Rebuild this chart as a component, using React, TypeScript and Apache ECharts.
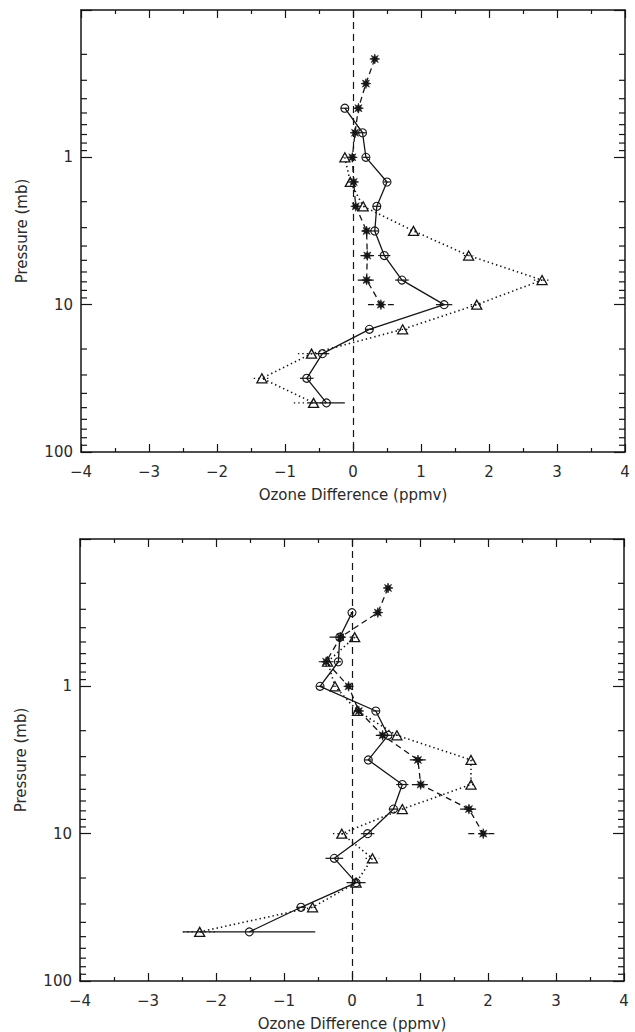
import React, { useEffect, useRef } from 'react';
import * as echarts from 'echarts';

// ---------- data (pressure levels in mb, ozone differences in ppmv) ----------
// Top panel
const TOP_CIRCLE_P = [0.464, 0.681, 1, 1.47, 2.15, 3.16, 4.64, 6.81, 10, 14.7, 21.5, 31.6, 46.4];
const TOP_CIRCLE_V = [-0.12, 0.14, 0.19, 0.50, 0.35, 0.32, 0.46, 0.72, 1.34, 0.24, -0.45, -0.68, -0.39];
const TOP_CIRCLE_E = [0.06, 0.05, 0.05, 0.05, 0.06, 0.05, 0.09, 0.10, 0.12, 0.06, 0.10, 0.10, 0.27];

const TOP_TRI_P = [1, 1.47, 2.15, 3.16, 4.64, 6.81, 10, 14.7, 21.5, 31.6, 46.4];
const TOP_TRI_V = [-0.12, -0.04, 0.15, 0.89, 1.70, 2.78, 1.82, 0.73, -0.61, -1.34, -0.58];
const TOP_TRI_E = [0.04, 0.04, 0.05, 0.05, 0.07, 0.12, 0.09, 0.08, 0.20, 0.12, 0.29];

const TOP_AST_P = [0.215, 0.316, 0.464, 0.681, 1, 1.47, 2.15, 3.16, 4.64, 6.81, 10];
const TOP_AST_V = [0.32, 0.19, 0.08, 0.03, -0.01, 0.01, 0.04, 0.20, 0.21, 0.20, 0.41];
const TOP_AST_E = [0.03, 0.03, 0.05, 0.03, 0.03, 0.03, 0.04, 0.07, 0.10, 0.13, 0.19];

// Bottom panel
const BOT_CIRCLE_P = [0.316, 0.464, 0.681, 1, 1.47, 2.15, 3.16, 4.64, 6.81, 10, 14.7, 21.5, 31.6, 46.4];
const BOT_CIRCLE_V = [0.00, -0.18, -0.20, -0.47, 0.35, 0.53, 0.24, 0.74, 0.61, 0.23, -0.26, 0.06, -0.75, -1.51];
const BOT_CIRCLE_E = [0.02, 0.05, 0.04, 0.05, 0.05, 0.06, 0.05, 0.09, 0.07, 0.10, 0.13, 0.14, 0.07, 0.97];

const BOT_TRI_P = [0.464, 0.681, 1, 1.47, 2.15, 3.16, 4.64, 6.81, 10, 14.7, 21.5, 31.6, 46.4];
const BOT_TRI_V = [0.04, -0.36, -0.25, 0.08, 0.66, 1.75, 1.75, 0.74, -0.15, 0.30, 0.06, -0.58, -2.24];
const BOT_TRI_E = [0.05, 0.05, 0.04, 0.05, 0.06, 0.05, 0.05, 0.05, 0.13, 0.10, 0.08, 0.05, 0.25];

const BOT_AST_P = [0.215, 0.316, 0.464, 0.681, 1, 1.47, 2.15, 3.16, 4.64, 6.81, 10];
const BOT_AST_V = [0.53, 0.38, -0.17, -0.38, -0.05, 0.10, 0.45, 0.97, 1.01, 1.72, 1.93];
const BOT_AST_E = [0.03, 0.04, 0.16, 0.11, 0.05, 0.06, 0.10, 0.12, 0.13, 0.13, 0.22];

// Axis ticks
const X_MIN = -4;
const X_MAX = 4;
const Y_MIN = 0.1;
const Y_MAX = 100;
const Y_MINOR_TICKS = [0.2, 0.3, 0.4, 0.5, 0.6, 0.7, 0.8, 0.9, 2, 3, 4, 5, 6, 7, 8, 9, 20, 30, 40, 50, 60, 70, 80, 90];

const X_TITLE = 'Ozone Difference (ppmv)';
const Y_TITLE = 'Pressure (mb)';

// ---------- styles ----------
const INK = '#151515';
const TEXT = '#2a2a2a';
const FONT = 'DejaVu Sans';
const DASH = [6, 4];
const DOT = [1.4, 3];

function starSymbol(): string {
  const pts: string[] = [];
  for (let i = 0; i < 16; i++) {
    const r = i % 2 === 0 ? 1 : 0.45;
    const a = (Math.PI * i) / 8 - Math.PI / 2;
    pts.push(`${(r * Math.cos(a)).toFixed(3)} ${(r * Math.sin(a)).toFixed(3)}`);
  }
  return 'path://M' + pts.join(' L') + ' Z';
}

function pairs(P: number[], V: number[]) {
  return P.map((p, i) => [V[i], p]);
}
function triples(P: number[], V: number[], E: number[]) {
  return P.map((p, i) => [V[i], p, E[i]]);
}

function buildOption() {
  const axisLine = { show: true, onZero: false, lineStyle: { color: INK, width: 1.5 } };
  const tickStyle = { color: INK, width: 1.2 };
  const label = { fontFamily: FONT, fontSize: 15, color: TEXT };

  const xAxes: any[] = [];
  const yAxes: any[] = [];
  const series: any[] = [];

  const panels = [
    {
      circ: [TOP_CIRCLE_P, TOP_CIRCLE_V, TOP_CIRCLE_E],
      tri: [TOP_TRI_P, TOP_TRI_V, TOP_TRI_E],
      ast: [TOP_AST_P, TOP_AST_V, TOP_AST_E],
    },
    {
      circ: [BOT_CIRCLE_P, BOT_CIRCLE_V, BOT_CIRCLE_E],
      tri: [BOT_TRI_P, BOT_TRI_V, BOT_TRI_E],
      ast: [BOT_AST_P, BOT_AST_V, BOT_AST_E],
    },
  ];

  panels.forEach((pd, g) => {
    const xi = g * 2;
    const yi = g * 2;
    const baseX = {
      type: 'value',
      gridIndex: g,
      min: X_MIN,
      max: X_MAX,
      interval: 1,
      axisLine,
      axisTick: { show: true, inside: true, length: 8, lineStyle: tickStyle },
      minorTick: { show: true, inside: true, splitNumber: 2, length: 4, lineStyle: tickStyle },
      splitLine: { show: false },
      minorSplitLine: { show: false },
    };
    xAxes.push({
      ...baseX,
      position: 'bottom',
      axisLabel: {
        ...label,
        margin: 12,
        formatter: (v: number) => (v < 0 ? '\u2212' + Math.abs(v) : String(v)),
      },
      name: X_TITLE,
      nameLocation: 'middle',
      nameGap: 35,
      nameTextStyle: { ...label },
    });
    xAxes.push({ ...baseX, position: 'top', axisLabel: { show: false } });

    const baseY = {
      type: 'log',
      gridIndex: g,
      logBase: 10,
      min: Y_MIN,
      max: Y_MAX,
      inverse: true,
      axisLine,
      axisTick: { show: true, inside: true, length: 11, lineStyle: tickStyle },
      splitLine: { show: false },
    };
    yAxes.push({
      ...baseY,
      position: 'left',
      axisLabel: {
        ...label,
        margin: 8,
        formatter: (v: number) => (v < 0.5 ? '' : String(Math.round(v))),
      },
      name: Y_TITLE,
      nameLocation: 'middle',
      nameGap: 52,
      nameRotate: 90,
      nameTextStyle: { ...label },
    });
    yAxes.push({ ...baseY, position: 'right', axisLabel: { show: false } });

    // minor log ticks on both sides
    series.push({
      type: 'custom',
      xAxisIndex: xi,
      yAxisIndex: yi,
      silent: true,
      z: 6,
      clip: false,
      data: Y_MINOR_TICKS.map((p) => [0, p]),
      renderItem: (_params: any, api: any) => {
        const p = api.value(1);
        const l = api.coord([X_MIN, p]);
        const r = api.coord([X_MAX, p]);
        return {
          type: 'group',
          children: [
            { type: 'line', shape: { x1: l[0], y1: l[1], x2: l[0] + 6, y2: l[1] }, style: { stroke: INK, lineWidth: 1.2 } },
            { type: 'line', shape: { x1: r[0] - 6, y1: r[1], x2: r[0], y2: r[1] }, style: { stroke: INK, lineWidth: 1.2 } },
          ],
        };
      },
    });

    const errSeries = (d: number[][], dash: number[] | null) => ({
      type: 'custom',
      xAxisIndex: xi,
      yAxisIndex: yi,
      silent: true,
      z: 2,
      data: triples(d[0], d[1], d[2]),
      renderItem: (_params: any, api: any) => {
        const v = api.value(0);
        const p = api.value(1);
        const e = api.value(2);
        const a = api.coord([v - e, p]);
        const b = api.coord([v + e, p]);
        return {
          type: 'line',
          shape: { x1: a[0], y1: a[1], x2: b[0], y2: b[1] },
          style: { stroke: INK, lineWidth: 1.2, lineDash: dash || undefined },
        };
      },
    });

    series.push(errSeries(pd.circ, null));
    series.push(errSeries(pd.tri, DOT));
    series.push(errSeries(pd.ast, DASH));

    series.push({
      type: 'line',
      xAxisIndex: xi,
      yAxisIndex: yi,
      data: pairs(pd.circ[0], pd.circ[1]),
      symbol: 'circle',
      symbolSize: 8,
      itemStyle: { color: 'rgba(0,0,0,0)', borderColor: INK, borderWidth: 1.1 },
      lineStyle: { color: INK, width: 1.3, type: 'solid' },
      z: 3,
      markLine: {
        silent: true,
        symbol: ['none', 'none'],
        label: { show: false },
        lineStyle: { color: INK, type: [7, 5], width: 1.2 },
        data: [{ xAxis: 0 }],
      },
    });
    series.push({
      type: 'line',
      xAxisIndex: xi,
      yAxisIndex: yi,
      data: pairs(pd.tri[0], pd.tri[1]),
      symbol: 'triangle',
      symbolSize: [10, 9],
      itemStyle: { color: 'rgba(0,0,0,0)', borderColor: INK, borderWidth: 1.3 },
      lineStyle: { color: INK, width: 1.6, type: DOT },
      z: 3,
    });
    series.push({
      type: 'line',
      xAxisIndex: xi,
      yAxisIndex: yi,
      data: pairs(pd.ast[0], pd.ast[1]),
      symbol: starSymbol(),
      symbolSize: 10,
      itemStyle: { color: INK, borderColor: INK, borderWidth: 0.6 },
      lineStyle: { color: INK, width: 1.3, type: DASH },
      z: 4,
    });
  });

  return {
    animation: false,
    backgroundColor: '#fff',
    grid: [
      { left: 81, top: 10, width: 544, height: 442 },
      { left: 80, top: 539, width: 544, height: 442 },
    ],
    xAxis: xAxes,
    yAxis: yAxes,
    series,
  };
}

export default function App() {
  const ref = useRef<HTMLDivElement>(null);
  useEffect(() => {
    if (!ref.current) return;
    const chart = echarts.init(ref.current, undefined, { renderer: 'svg' });
    chart.setOption(buildOption() as any);
    return () => chart.dispose();
  }, []);
  return (
    <div
      ref={ref}
      style={{ position: 'absolute', left: 0, top: 0, width: 635, height: 1032, background: '#fff' }}
    />
  );
}
